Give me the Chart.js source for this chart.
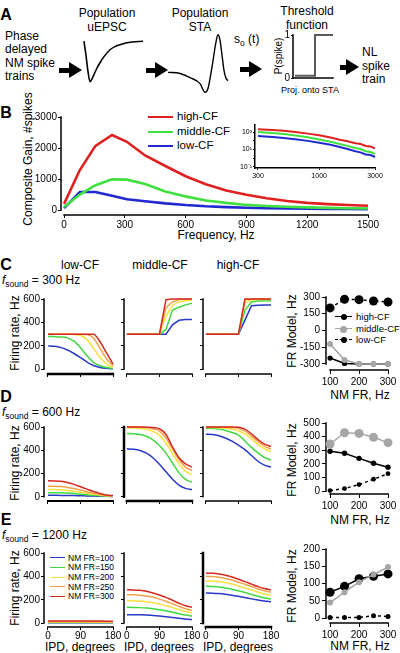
<!DOCTYPE html>
<html>
<head>
<meta charset="utf-8">
<script src="https://cdn.jsdelivr.net/npm/chart.js@4.4.1/dist/chart.umd.min.js"></script>
<style>
html, body { margin: 0; padding: 0; background: #fff; }
#fig { position: relative; width: 400px; height: 653px; overflow: hidden; font-family: 'Liberation Sans', Arial, Helvetica, sans-serif; color: #000; }
#fig canvas { position: absolute; }
.t { position: absolute; white-space: nowrap; line-height: 1; font-size: 12px; }
.c { transform: translate(-50%, -50%); }
.v { transform: translate(-50%, -50%) rotate(-90deg); }
.r { transform: translate(-100%, -50%); z-index: 5; font-size: 10px; }
.p { font-weight: bold; font-size: 16px; }
.ml { position: absolute; white-space: nowrap; font-size: 12px; }
.ctr { text-align: center; transform: translateX(-50%); }
sub { font-size: 8.5px; vertical-align: -3px; }
.sw { position: absolute; height: 0; }
.dot { position: absolute; border-radius: 50%; }
.arr { position: absolute; height: 16px; }
.arr .sh { position: absolute; left: 0; top: 5.5px; height: 5px; background: #000; }
.arr .hd { position: absolute; right: 0; top: 0; width: 0; height: 0; border-top: 8px solid transparent; border-bottom: 8px solid transparent; border-left: 13px solid #000; }
</style>
</head>
<body>
<div id="fig">
  <!-- panel A -->
  <div class="t c p" style="left:6px;top:15px;">A</div>
  <div class="ml" style="left:5px;top:30px;line-height:13.3px;">Phase<br>delayed<br>NM spike<br>trains</div>
  <div class="ml ctr" style="left:107px;top:6px;line-height:14px;">Population<br>uEPSC</div>
  <div class="ml ctr" style="left:200px;top:6px;line-height:14px;">Population<br>STA</div>
  <div class="ml ctr" style="left:307px;top:5px;line-height:13.5px;">Threshold<br>function</div>
  <div class="ml" style="left:362px;top:46px;line-height:13.5px;">NL<br>spike<br>train</div>
  <div class="t" style="left:234px;top:33px;">s<sub>o</sub> (t)</div>
  <div class="t v" style="left:279px;top:56px;font-size:10px;">P(spike)</div>
  <div class="t c" style="left:310px;top:90px;font-size:9px;">Proj. onto STA</div>
  <div class="arr" style="left:59px;top:62px;width:23px;"><div class="sh" style="width:12px;"></div><div class="hd"></div></div>
  <div class="arr" style="left:146px;top:62px;width:22px;"><div class="sh" style="width:11px;"></div><div class="hd"></div></div>
  <div class="arr" style="left:240px;top:61px;width:22px;"><div class="sh" style="width:11px;"></div><div class="hd"></div></div>
  <div class="arr" style="left:340px;top:59px;width:19px;"><div class="sh" style="width:8px;"></div><div class="hd"></div></div>

  <!-- panel B -->
  <div class="t c p" style="left:6px;top:113px;">B</div>
  <div class="t v" style="left:28px;top:159px;">Composite Gain, #spikes</div>
  <div class="t c" style="left:216px;top:235px;">Frequency, Hz</div>
  <div class="sw" style="left:148px;top:116px;width:25px;border-top:2.5px solid #e02020;"></div>
  <div class="sw" style="left:148px;top:131px;width:25px;border-top:2.5px solid #40e040;"></div>
  <div class="sw" style="left:148px;top:145px;width:25px;border-top:2.5px solid #2028d0;"></div>
  <div class="t" style="left:177px;top:111px;font-size:11.5px;">high-CF</div>
  <div class="t" style="left:177px;top:126px;font-size:11.5px;">middle-CF</div>
  <div class="t" style="left:177px;top:140px;font-size:11.5px;">low-CF</div>

  <!-- panel C -->
  <div class="t c p" style="left:6px;top:265px;">C</div>
  <div class="t c" style="left:80px;top:265px;">low-CF</div>
  <div class="t c" style="left:160px;top:265px;">middle-CF</div>
  <div class="t c" style="left:238px;top:265px;">high-CF</div>
  <div class="t" style="left:2px;top:274px;"><i>f</i><sub>sound</sub> = 300 Hz</div>
  <div class="t v" style="left:15px;top:333px;">Firing rate, Hz</div>
  <div class="t v" style="left:292px;top:331px;">FR Model, Hz</div>
  <div class="t c" style="left:360px;top:395px;">NM FR, Hz</div>
  <div class="sw" style="left:335px;top:316px;width:17px;border-top:1.5px solid #000;"></div>
  <div class="dot" style="left:340.5px;top:314px;width:6px;height:6px;background:#000;"></div>
  <div class="sw" style="left:335px;top:328px;width:17px;border-top:1.5px solid #a6a6a6;"></div>
  <div class="dot" style="left:340px;top:325.5px;width:7px;height:7px;background:#a6a6a6;"></div>
  <div class="sw" style="left:335px;top:339px;width:17px;border-top:1.5px dashed #000;"></div>
  <div class="dot" style="left:340.5px;top:337px;width:6px;height:6px;background:#000;"></div>
  <div class="t" style="left:356px;top:312px;font-size:9.5px;">high-CF</div>
  <div class="t" style="left:356px;top:324px;font-size:9.5px;">middle-CF</div>
  <div class="t" style="left:356px;top:335px;font-size:9.5px;">low-CF</div>

  <!-- panel D -->
  <div class="t c p" style="left:6px;top:397px;">D</div>
  <div class="t" style="left:2px;top:406px;"><i>f</i><sub>sound</sub> = 600 Hz</div>
  <div class="t v" style="left:15px;top:463px;">Firing rate, Hz</div>
  <div class="t v" style="left:292px;top:460px;">FR Model, Hz</div>
  <div class="t c" style="left:360px;top:520px;">NM FR, Hz</div>

  <!-- panel E -->
  <div class="t c p" style="left:6px;top:520px;">E</div>
  <div class="t" style="left:2px;top:529px;"><i>f</i><sub>sound</sub> = 1200 Hz</div>
  <div class="t v" style="left:15px;top:588px;">Firing rate, Hz</div>
  <div class="t c" style="left:80px;top:647px;">IPD, degrees</div>
  <div class="t c" style="left:159px;top:647px;">IPD, degrees</div>
  <div class="t c" style="left:238px;top:647px;">IPD, degrees</div>
  <div class="t v" style="left:292px;top:586px;">FR Model, Hz</div>
  <div class="t c" style="left:360px;top:646px;">NM FR, Hz</div>
  <div id="eLegend"></div>
</div>

<script>
// ---- panel A: schematic traces (arbitrary units)
const uepscT = [0, 2, 4, 6, 8, 10, 13, 16, 20, 26, 32, 39, 48, 59];
const uepscV = [0, -0.35, -0.75, -1, -0.93, -0.82, -0.66, -0.53, -0.38, -0.21, -0.12, -0.06, -0.02, 0];
const staT = [0, 12, 22, 32, 37, 40, 44, 48, 50, 52, 54, 56, 58, 60];
const staV = [0, -0.03, -0.14, -0.3, -0.53, -0.43, 0.14, 0.81, 1.0, 0.86, 0.46, 0.05, -0.16, -0.22];
const threshX = [0.05, 0.55, 0.55, 1.0];
const threshY = [0.05, 0.05, 1, 1];
const threshTicks = [0, 1];

// ---- panel B: composite gain vs frequency
const freqB = [0, 78, 155, 237, 310, 400, 500, 600, 700, 800, 900, 1000, 1100, 1200, 1300, 1400, 1500];
const gainHigh = [200, 1290, 2070, 2420, 2200, 1760, 1420, 1090, 830, 630, 490, 380, 290, 230, 190, 160, 140];
const gainMid = [100, 500, 800, 990, 980, 840, 600, 440, 310, 230, 165, 130, 105, 85, 70, 60, 50];
const gainLow = [60, 580, 580, 460, 350, 285, 215, 160, 120, 95, 75, 60, 50, 42, 36, 32, 30];
const freqTicksB = [0, 300, 600, 900, 1200, 1500];
const gainTicksB = [0, 1000, 2000, 3000];

// inset (log-log)
const freqInset = [300, 400, 500, 650, 800, 1000, 1250, 1500, 1750, 2000, 2250, 2500, 2750, 3000];
const insetHigh = [2040, 1700, 1400, 950, 650, 410, 230, 130, 85, 55, 42, 24, 21, 13];
const insetMid = [1000, 780, 590, 380, 250, 140, 75, 42, 25, 15, 11, 6, 5, 3];
const insetLow = [350, 270, 200, 135, 95, 59, 33, 19, 11, 6.5, 4.5, 2.6, 2.2, 1.3];
const insetXTicks = [300, 1000, 3000];
const insetYTicks = [0.1, 1, 10, 100, 1000];

// ---- panels C-E: firing rate vs IPD, rows are NM FR = 300, 250, 200, 150, 100
const ipd = [0, 18, 36, 54, 72, 90, 108, 126, 144, 162, 180];
const ipdTicks = [0, 90, 180];
const rateTicks = [0, 200, 400, 600];
const nmLabels = ['NM FR=100', 'NM FR=150', 'NM FR=200', 'NM FR=250', 'NM FR=300'];

const cLow = [
  [300, 300, 300, 300, 300, 300, 300, 300, 235, 140, 45],
  [300, 300, 300, 300, 300, 300, 296, 268, 180, 90, 30],
  [300, 300, 300, 300, 298, 288, 255, 180, 100, 45, 15],
  [280, 279, 276, 268, 240, 185, 115, 60, 30, 15, 8],
  [200, 196, 185, 165, 135, 100, 62, 33, 16, 8, 5]
];
const cMid = [
  [300, 300, 300, 300, 300, 300, 594, 600, 600, 600, 600],
  [300, 300, 300, 300, 300, 300, 525, 575, 595, 598, 600],
  [300, 300, 300, 300, 300, 300, 455, 545, 575, 585, 590],
  [300, 300, 300, 300, 300, 300, 340, 505, 530, 550, 565],
  [300, 300, 300, 300, 300, 300, 300, 380, 418, 425, 425]
];
const cHigh = [
  [300, 300, 300, 300, 300, 300, 600, 600, 600, 600, 600],
  [300, 300, 300, 300, 300, 300, 595, 598, 600, 600, 600],
  [300, 300, 300, 300, 300, 300, 570, 592, 595, 595, 595],
  [300, 300, 300, 300, 300, 300, 505, 575, 582, 585, 586],
  [300, 300, 300, 300, 300, 300, 420, 543, 547, 548, 548]
];
const dLow = [
  [137, 136, 132, 122, 106, 86, 65, 45, 28, 15, 10],
  [91, 90, 87, 80, 70, 57, 43, 30, 18, 10, 7],
  [62, 61, 59, 54, 47, 39, 30, 21, 14, 8, 5],
  [35, 35, 34, 31, 27, 22, 17, 12, 8, 5, 4],
  [12, 12, 11, 11, 10, 8, 7, 5, 4, 3, 2]
];
const dMid = [
  [600, 600, 600, 598, 595, 585, 535, 430, 335, 282, 255],
  [600, 600, 599, 595, 585, 565, 505, 410, 320, 255, 225],
  [592, 591, 588, 580, 562, 530, 460, 370, 285, 220, 190],
  [545, 542, 535, 520, 490, 440, 375, 290, 205, 150, 125],
  [412, 408, 398, 375, 335, 280, 215, 150, 100, 72, 62]
];
const dHigh = [
  [600, 600, 600, 600, 600, 598, 582, 540, 492, 452, 432],
  [600, 600, 600, 599, 596, 588, 565, 522, 475, 435, 410],
  [597, 596, 594, 590, 582, 568, 540, 498, 452, 412, 388],
  [590, 588, 582, 570, 553, 530, 480, 425, 378, 338, 315],
  [538, 535, 525, 505, 478, 445, 405, 355, 305, 272, 255]
];
const eLow = [
  [18, 18, 18, 18, 18, 18, 17, 17, 17, 16, 16],
  [12, 12, 12, 12, 12, 12, 11, 11, 11, 11, 11],
  [8, 8, 8, 8, 8, 8, 8, 7, 7, 7, 7],
  [5, 5, 5, 5, 5, 5, 5, 5, 4, 4, 4],
  [2, 2, 2, 2, 2, 2, 2, 2, 2, 2, 2]
];
const eMid = [
  [285, 284, 280, 272, 258, 240, 220, 195, 170, 148, 135],
  [243, 242, 238, 231, 220, 205, 187, 165, 143, 122, 108],
  [192, 191, 188, 182, 173, 162, 148, 132, 115, 98, 88],
  [135, 134, 132, 128, 122, 114, 104, 92, 80, 68, 60],
  [72, 71, 70, 68, 65, 60, 54, 47, 40, 34, 30]
];
const eHigh = [
  [428, 426, 420, 410, 395, 375, 355, 333, 312, 295, 285],
  [400, 398, 392, 382, 368, 350, 332, 312, 292, 276, 265],
  [363, 361, 356, 347, 334, 318, 300, 282, 264, 248, 238],
  [315, 313, 309, 301, 290, 276, 261, 245, 229, 215, 205],
  [257, 256, 253, 247, 239, 229, 218, 207, 197, 188, 182]
];

// ---- right column: model FR vs NM FR
const nmFR = [100, 150, 200, 250, 300];
const nmTicks = [100, 200, 300];
const cFRHigh = [-247, -295, -300, -300, -300];
const cFRMid = [-122, -265, -300, -300, -300];
const cFRLow = [202, 279, 276, 264, 255];
const cFRTicks = [-300, -150, 0, 150, 300];
const dFRMid = [346, 429, 424, 395, 356];
const dFRHigh = [293, 278, 241, 205, 176];
const dFRLow = [5, 20, 49, 88, 129];
const dFRTicks = [0, 100, 200, 300, 400, 500];
const eFRHigh = [75, 92, 114, 121, 128];
const eFRMid = [45, 75, 104, 126, 148];
const eFRLow = [2, 2, 2, 7, 5];
const eFRTicks = [0, 50, 100, 150, 200];

const frColors = ['#d42a20', '#eea24a', '#f8e040', '#40d840', '#2838c8'];
const GRAY = '#a6a6a6';

Chart.defaults.font.family = "'Liberation Sans', Arial, Helvetica, sans-serif";
Chart.defaults.color = '#000';
Chart.defaults.animation = false;
Chart.defaults.events = [];
Chart.defaults.plugins.legend.display = false;
Chart.defaults.plugins.tooltip.enabled = false;

// Igor-style axis lines spanning only the tick range
const spines = {
  id: 'spines',
  beforeDatasetsDraw(chart, args, opts) {
    const { ctx, chartArea: a, scales } = chart;
    ctx.save();
    ctx.strokeStyle = '#000';
    ctx.lineCap = 'square';
    if (opts.y) {
      ctx.lineWidth = opts.y.w || 1.5;
      ctx.beginPath();
      ctx.moveTo(a.left, scales.y.getPixelForValue(opts.y.from));
      ctx.lineTo(a.left, scales.y.getPixelForValue(opts.y.to));
      ctx.stroke();
    }
    if (opts.x) {
      ctx.lineWidth = opts.x.w || 1.5;
      ctx.beginPath();
      ctx.moveTo(scales.x.getPixelForValue(opts.x.from), a.bottom);
      ctx.lineTo(scales.x.getPixelForValue(opts.x.to), a.bottom);
      ctx.stroke();
    }
    ctx.restore();
  }
};
Chart.register(spines);

const fig = document.getElementById('fig');
const PAD = 14;

// box = chart area in page pixels; yW / xH = room for the axes
function makeChart(box, yW, xH, config) {
  const cv = document.createElement('canvas');
  const w = box.r - box.l + yW + 2 * PAD;
  const h = box.b - box.t + xH + 2 * PAD;
  cv.width = w;
  cv.height = h;
  cv.style.width = w + 'px';
  cv.style.height = h + 'px';
  cv.style.left = (box.l - yW - PAD) + 'px';
  cv.style.top = (box.t - PAD) + 'px';
  fig.appendChild(cv);
  const o = config.options;
  o.responsive = false;
  o.layout = { padding: PAD, autoPadding: false };
  if (o.scales.x.display !== false) o.scales.x.afterFit = s => { s.height = xH; };
  if (o.scales.y.display !== false) o.scales.y.afterFit = s => { s.width = yW; };
  return new Chart(cv, config);
}

// y tick labels as page text, placed with the chart's own y scale
function yTickText(chart, ticks, gap, size) {
  const left = parseFloat(chart.canvas.style.left), top = parseFloat(chart.canvas.style.top);
  const x = left + chart.chartArea.left - gap;
  ticks.forEach(v => {
    const y = top + chart.scales.y.getPixelForValue(v);
    fig.insertAdjacentHTML('beforeend',
      '<div class="t r" style="left:' + x + 'px;top:' + y + 'px;font-size:' + size + 'px;">' + v + '</div>');
  });
}

function axis(min, max, ticks, o = {}) {
  return {
    type: o.type || 'linear',
    min: min,
    max: max,
    afterBuildTicks: s => { s.ticks = ticks.map(v => ({ value: v })); },
    ticks: {
      display: o.labels !== false,
      padding: o.pad ?? 1,
      font: { size: o.size || 10 },
      maxRotation: 0,
      autoSkip: false,
      callback: o.fmt || (v => String(v))
    },
    grid: { display: true, drawOnChartArea: false, drawTicks: o.tl !== 0, tickLength: o.tl ?? 3, color: '#000', lineWidth: 1 },
    border: { display: !!o.border, width: o.border || 1, color: '#000' }
  };
}

function series(xs, ys, color, width, extra) {
  return Object.assign({
    data: xs.map((x, i) => ({ x: x, y: ys[i] })),
    borderColor: color,
    backgroundColor: color,
    borderWidth: width,
    pointRadius: 0,
    fill: false,
    clip: false,
    tension: 0
  }, extra || {});
}

// ---------- panels C-E, IPD tuning
const cols = [
  { l: 44, r: 113, xmin: -11 },
  { l: 124, r: 192, xmin: -8 },
  { l: 203, r: 271, xmin: -8 }
];
const rows = [
  { t: 299, b: 374, ymin: -40, data: [cLow, cMid, cHigh], smooth: [true, false, false], sx: [2.5, 1.5, 1.5], sy: [1.5, 1.5, 1.5], xl: false },
  { t: 427, b: 501, ymin: -37, data: [dLow, dMid, dHigh], smooth: [true, true, true], sx: [2, 2.5, 1.5], sy: [1.5, 2.5, 1.5], xl: false },
  { t: 553, b: 627, ymin: -34, data: [eLow, eMid, eHigh], smooth: [true, true, true], sx: [1.5, 1.5, 2.5], sy: [1.5, 1.5, 2.5], xl: true }
];
rows.forEach(row => {
  cols.forEach((col, ci) => {
    const ch = makeChart({ l: col.l, t: row.t, r: col.r, b: row.b }, 6, row.xl ? 18 : 6, {
      type: 'line',
      data: {
        datasets: row.data[ci].map((ys, k) => series(ipd, ys, frColors[k], 1.5,
          row.smooth[ci] ? { cubicInterpolationMode: 'monotone' } : {}))
      },
      options: {
        scales: {
          x: axis(col.xmin, 180, ipdTicks, { labels: row.xl, tl: 3, pad: 0 }),
          y: axis(row.ymin, 600, rateTicks, { labels: false, tl: 3 })
        },
        plugins: { spines: { x: { from: 0, to: 180, w: row.sx[ci] }, y: { from: 0, to: 600, w: row.sy[ci] } } }
      }
    });
    if (ci === 0) yTickText(ch, rateTicks, 4, 10);
  });
});

// ---------- right column
function frPanel(box, ymin, ticks, sets) {
  makeChart(box, 36, 16, {
    type: 'line',
    data: {
      datasets: sets.map(s => series(nmFR, s.v, s.c, 1.5, {
        pointRadius: s.r, pointBackgroundColor: s.c, pointBorderWidth: 0, borderDash: s.dash ? [3, 3] : []
      }))
    },
    options: {
      scales: {
        x: axis(86, 300, nmTicks, { tl: 4, pad: 2 }),
        y: axis(ymin, ticks[ticks.length - 1], ticks, { tl: 4, pad: 2 })
      },
      plugins: { spines: { x: { from: 100, to: 300, w: 1.5 }, y: { from: ticks[0], to: ticks[ticks.length - 1], w: 1.5 } } }
    }
  });
}
frPanel({ l: 326, t: 297, r: 388, b: 370 }, -354, cFRTicks, [
  { v: cFRMid, c: GRAY, r: 3 },
  { v: cFRHigh, c: '#000', r: 2.6 },
  { v: cFRLow, c: '#000', r: 4.5, dash: true }
]);
frPanel({ l: 326, t: 423, r: 388, b: 494 }, -20, dFRTicks, [
  { v: dFRMid, c: GRAY, r: 4.5 },
  { v: dFRHigh, c: '#000', r: 2.7 },
  { v: dFRLow, c: '#000', r: 2.4, dash: true }
]);
frPanel({ l: 326, t: 549, r: 388, b: 623 }, -14, eFRTicks, [
  { v: eFRMid, c: GRAY, r: 3 },
  { v: eFRHigh, c: '#000', r: 4.5 },
  { v: eFRLow, c: '#000', r: 2.5, dash: true }
]);

// ---------- panel B
makeChart({ l: 61, t: 117, r: 368, b: 215 }, 36, 16, {
  type: 'line',
  data: {
    datasets: [
      series(freqB, gainHigh, '#e02020', 2.6),
      series(freqB, gainMid, '#40e040', 2.6),
      series(freqB, gainLow, '#2028d0', 2.6)
    ]
  },
  options: {
    scales: {
      x: axis(-15, 1500, freqTicksB, { tl: 3, pad: 1 }),
      y: axis(-160, 3000, gainTicksB, { tl: 3, pad: 1 })
    },
    plugins: { spines: { x: { from: 0, to: 1500, w: 1.5 }, y: { from: 0, to: 3000, w: 1.5 } } }
  }
});
const sup = { 0.1: '10\u207B\u00B9', 10: '10\u00B9', 1000: '10\u00B3' };
makeChart({ l: 255, t: 125, r: 375, b: 168 }, 24, 12, {
  type: 'line',
  data: {
    datasets: [
      series(freqInset, insetHigh, '#e02020', 2),
      series(freqInset, insetMid, '#40e040', 2),
      series(freqInset, insetLow, '#2028d0', 2)
    ]
  },
  options: {
    scales: {
      x: axis(283, 3000, insetXTicks, { type: 'logarithmic', tl: 2, pad: 2, size: 7, border: 1.5 }),
      y: axis(0.0708, 6412, insetYTicks, { type: 'logarithmic', tl: 2, pad: 1, size: 7, border: 1.5, fmt: v => sup[v] || '' })
    }
  }
});

// ---------- panel A
const th = makeChart({ l: 293, t: 35, r: 333, b: 78 }, 6, 4, {
  type: 'line',
  data: { datasets: [series(threshX, threshY, '#5a5a5a', 2)] },
  options: {
    scales: {
      x: axis(0, 1, [0], { labels: false, tl: 0 }),
      y: axis(0, 1, threshTicks, { labels: false, tl: 2 })
    },
    plugins: { spines: { x: { from: 0, to: 1, w: 1.5 }, y: { from: 0, to: 1, w: 1.5 } } }
  }
});
yTickText(th, threshTicks, 3, 10);
makeChart({ l: 84, t: 40, r: 143, b: 83 }, 0, 0, {
  type: 'line',
  data: { datasets: [series(uepscT, uepscV, '#000', 1.6, { cubicInterpolationMode: 'monotone' })] },
  options: { scales: { x: { type: 'linear', min: 0, max: 59, display: false }, y: { min: -1.03, max: 0.03, display: false } } }
});
makeChart({ l: 168, t: 34, r: 228, b: 93 }, 0, 0, {
  type: 'line',
  data: { datasets: [series(staT, staV, '#000', 1.4, { cubicInterpolationMode: 'monotone' })] },
  options: { scales: { x: { type: 'linear', min: 0, max: 60, display: false }, y: { min: -0.55, max: 1.02, display: false } } }
});

// legend inside E low-CF
const leg = document.getElementById('eLegend');
nmLabels.forEach((lab, i) => {
  const y = 558 + i * 9.7;
  const c = frColors[4 - i];
  leg.insertAdjacentHTML('beforeend',
    '<div class="sw" style="left:50px;top:' + (y - 0.75) + 'px;width:15px;border-top:1.5px solid ' + c + ';"></div>' +
    '<div class="t" style="left:68px;top:' + (y - 4.5) + 'px;font-size:8.5px;">' + lab + '</div>');
});
</script>
</body>
</html>
